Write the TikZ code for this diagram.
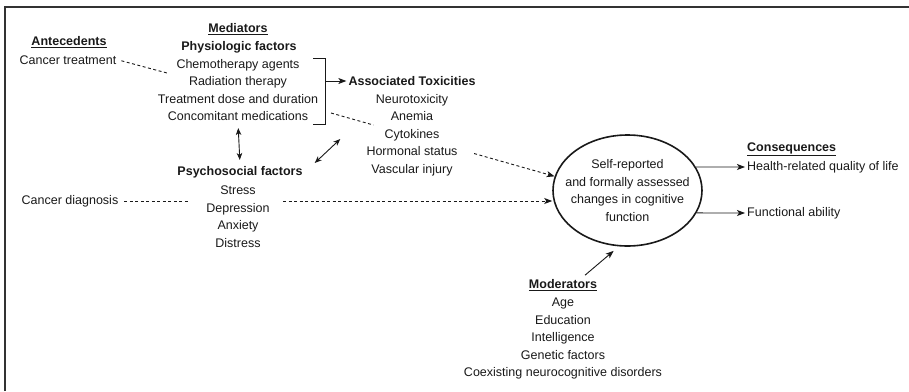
\documentclass[tikz,border=0pt]{standalone}
\usepackage{fontspec}
\setmainfont{Liberation Sans}
\usepackage{tikz}
\usetikzlibrary{positioning,arrows.meta,calc,shapes.geometric}
\newcommand{\cfInk}{black!90}
\tikzset{
  cfitem/.style={align=center, text=\cfInk, inner sep=2pt,
                 font=\fontsize{12.5}{17.5}\selectfont},
  cfhead/.style={cfitem, font=\fontsize{12.5}{17.5}\selectfont\bfseries},
  cfout/.style={cfitem, ellipse, draw=\cfInk, line width=1.6pt,
                minimum width=149pt, minimum height=111pt,
                inner xsep=-10pt, inner ysep=6pt},
  cfarr/.style={draw=\cfInk, line width=0.9pt,
                -{Stealth[length=8pt,width=6pt,inset=2pt]}},
  cfdbl/.style={draw=\cfInk, line width=0.9pt,
                {Stealth[length=7pt,width=5.5pt,inset=2pt]}-{Stealth[length=7pt,width=5.5pt,inset=2pt]}},
  cfdash/.style={draw=\cfInk, line width=0.9pt, dash pattern=on 3pt off 2.5pt},
  cfbrk/.style={draw=\cfInk, line width=1pt},
}

\begin{document}
\begin{tikzpicture}[x=1pt,y=-1pt]
  \useasboundingbox (0,0) rectangle (909,391);
  \draw[line width=1.5pt, black!80] (5,391) -- (5,7) -- (909,7);

  % antecedents
  \node[cfhead] (antehd) at (69,42) {\underline{Antecedents}};
  \node[cfitem] (ctreat) at (68,60) {Cancer treatment};
  \node[cfitem] (cdiag) at (70,201) {Cancer diagnosis};

  % mediators
  \node[cfhead] (medhd) at (238,29) {\underline{Mediators}};
  \node[cfhead] (physhd) at (239,47) {Physiologic factors};
  \node[cfitem] (physlist) at (238,90) {Chemotherapy agents\\Radiation therapy\\Treatment dose and duration\\Concomitant medications};
  \node[cfhead] (psyhd) at (240,172) {Psychosocial factors};
  \node[cfitem] (psylist) at (238,216.5) {Stress\\Depression\\Anxiety\\Distress};

  \node[cfhead] (toxhd) at (412,81) {Associated Toxicities};
  \node[cfitem] (toxlist) at (412,135) {Neurotoxicity\\Anemia\\Cytokines\\Hormonal status\\Vascular injury};

  % outcome
  \node[cfout] (cog) at (627.5,190.5) {Self-reported\\and formally assessed\\changes in cognitive\\function};

  % moderators and consequences
  \node[cfhead] (modhd) at (563,285) {\underline{Moderators}};
  \node[cfitem] (modlist) at (563,338.5) {Age\\Education\\Intelligence\\Genetic factors\\Coexisting neurocognitive disorders};
  \node[cfhead, anchor=west] (conshd) at (745,149) {\underline{Consequences}};
  \node[cfitem, anchor=west] (hrql) at (745,167) {Health-related quality of life};
  \node[cfitem, anchor=west] (func) at (745,213) {Functional ability};

  % bracket round the physiologic factors
  \coordinate (br-top) at (313,58);
  \coordinate (br-bot) at (313,124);
  \coordinate (br-mid) at (325,81);
  \coordinate (phys-in) at (167,73);
  \coordinate (phys-out) at (331,113);
  \coordinate (cd-end) at (190,201);
  \coordinate (psy-out) at (283,201);
  \draw[cfbrk] (br-top) -- ++(12,0) |- (br-bot);

  % connectors
  \draw[cfdash, shorten <=3pt] (ctreat.east) -- (phys-in);
  \draw[cfarr] (br-mid) -- (toxhd.west);
  \draw[cfdash] (phys-out) -- ($(phys-out)!0.19!(cog.169)$);
  \draw[cfdash, -{Stealth[length=8pt,width=6pt,inset=2pt]}] ($(phys-out)!0.64!(cog.169)$) -- (cog.169);
  \draw[cfdash, shorten <=4pt] (cdiag.east) -- (cd-end);
  \draw[cfdash, -{Stealth[length=8pt,width=6pt,inset=2pt]}] (psy-out) -- (psy-out -| cog.west);
  \draw[cfdbl, shorten <=5pt, shorten >=4pt] (physlist.south) -- (psyhd.north);
  \draw[cfdbl] ($(psyhd.east)+(10,-9)$) -- ($(toxlist.west)+(-24,4)$);
  \draw[cfarr] ($(modhd.north)+(22,-2)$) -- ([yshift=-5pt]cog.256);
  \draw[cfarr] (cog.19) -- (hrql.west);
  \draw[cfarr] (cog.-18) -- (func.west);
\end{tikzpicture}
\end{document}
